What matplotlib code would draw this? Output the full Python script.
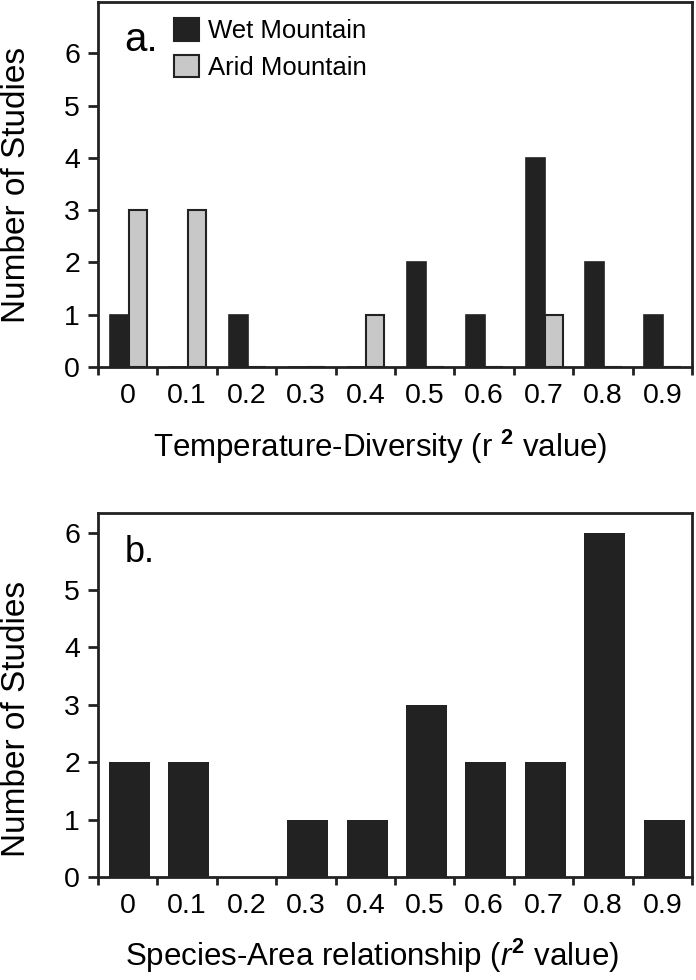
import numpy as np
import matplotlib
matplotlib.use('Agg')
import matplotlib.pyplot as plt
from matplotlib.patches import Patch

plt.rcParams['font.family'] = ['Liberation Sans', 'DejaVu Sans']
plt.rcParams['mathtext.fontset'] = 'custom'
plt.rcParams['mathtext.rm'] = 'Liberation Sans'
plt.rcParams['mathtext.it'] = 'Liberation Sans:italic'
plt.rcParams['mathtext.bf'] = 'Liberation Sans:bold'

# Data
bins = ['0', '0.1', '0.2', '0.3', '0.4', '0.5', '0.6', '0.7', '0.8', '0.9']
wet_temp = [1, 0, 1, 0, 0, 2, 1, 4, 2, 1]
arid_temp = [3, 3, 0, 0, 1, 0, 0, 1, 0, 0]
species_area = [2, 2, 0, 1, 1, 3, 2, 2, 6, 1]

dark = '#222222'
light = '#c8c8c8'
x = np.arange(len(bins))

fig = plt.figure(figsize=(6.96, 9.8), dpi=100)
ax1 = fig.add_axes([98 / 696, 1 - 367 / 980, 594 / 696, 365 / 980])
ax2 = fig.add_axes([98 / 696, 1 - 877 / 980, 594 / 696, 364 / 980])


def style_axis(ax, ymax):
    ax.set_xlim(-0.5, len(bins) - 0.5)
    ax.set_ylim(0, ymax)
    for s in ax.spines.values():
        s.set_linewidth(2.0)
        s.set_color(dark)
    # ticks sit on bin edges, labels in bin centres
    ax.set_xticks(np.arange(len(bins) + 1) - 0.5)
    ax.set_xticklabels([])
    ax.set_xticks(x, minor=True)
    ax.set_xticklabels(bins, minor=True)
    ax.tick_params(axis='x', which='major', direction='out', length=6, width=2, color=dark)
    ax.tick_params(axis='x', which='minor', length=0, pad=11.5, labelsize=20.5)
    ax.set_yticks(range(7))
    ax.tick_params(axis='y', direction='out', length=7, width=2, color=dark,
                   labelsize=20.5, pad=6)


# Panel a
style_axis(ax1, 6.98)
ax1.bar(x - 0.30, wet_temp, width=0.32, align='edge', color=dark,
        edgecolor=dark, linewidth=1.2, label='Wet Mountain')
ax1.bar(x + 0.02, arid_temp, width=0.30, align='edge', color=light,
        edgecolor=dark, linewidth=1.5, label='Arid Mountain')
ax1.set_ylabel('Number of Studies', fontsize=24)
ax1.yaxis.set_label_coords(-0.111, 0.5)
ax1.set_xlabel(r'Temperature-Diversity (r $^{\mathbf{2}}$ value)', fontsize=22.5)
ax1.xaxis.label.set_va('baseline')
ax1.xaxis.set_label_coords(0.475, -0.247)
ax1.text(0.045, 0.866, 'a.', transform=ax1.transAxes, fontsize=29, va='baseline')
handles = [Patch(facecolor=dark, edgecolor=dark, linewidth=1.5),
           Patch(facecolor=light, edgecolor=dark, linewidth=1.5)]
ax1.legend(handles, ['Wet Mountain', 'Arid Mountain'], loc='upper left',
           bbox_to_anchor=(0.097, 1.005), frameon=False, fontsize=18.5,
           handlelength=0.97, handleheight=0.97, handletextpad=0.35,
           labelspacing=0.45, borderaxespad=0.3)

# Panel b
style_axis(ax2, 6.34)
ax2.bar(x + 0.03, species_area, width=0.69, color=dark, edgecolor='none')
ax2.set_ylabel('Number of Studies', fontsize=24)
ax2.yaxis.set_label_coords(-0.111, 0.434)
ax2.set_xlabel(r'Species-Area relationship ($r^{\mathbf{2}}$ value)', fontsize=22.5)
ax2.xaxis.label.set_va('baseline')
ax2.xaxis.set_label_coords(0.462, -0.245)
ax2.text(0.045, 0.865, 'b.', transform=ax2.transAxes, fontsize=26, va='baseline')

fig.savefig('out.png', dpi=100)
